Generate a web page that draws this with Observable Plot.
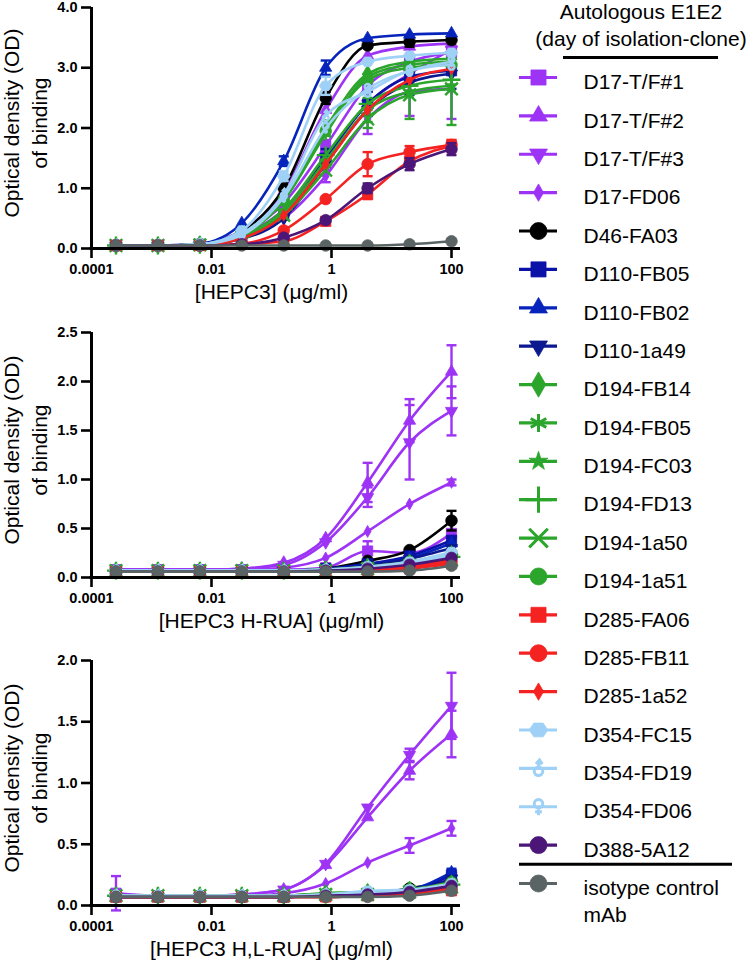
<!DOCTYPE html>
<html><head><meta charset="utf-8">
<script src="https://cdn.jsdelivr.net/npm/d3@7"></script>
<script src="https://cdn.jsdelivr.net/npm/@observablehq/plot@0.6"></script>
<style>
html,body{margin:0;padding:0;background:#fff;}
#root{position:relative;width:756px;height:961px;overflow:hidden;font-family:"Liberation Sans",Arial,Helvetica,sans-serif;color:#000;}
#root svg{position:absolute;left:0;overflow:visible;}
#root [aria-label$="tick label"]{font-weight:bold;}
.lt{position:absolute;left:520px;width:242px;text-align:center;font-size:21px;line-height:27px;top:-2px;white-space:nowrap;}
.ul{position:absolute;left:563px;width:155px;top:56px;height:0;border-top:3px solid #000;}
</style></head>
<body><div id="root">
<div class="lt">Autologous E1E2<br>(day of isolation-clone)</div>
<div class="ul"></div>
</div>
<script>
// ---------- data ----------
const concentrations = [0.000256, 0.00128, 0.0064, 0.032, 0.16, 0.8, 4, 20, 100];
const xTickLabels = ["0.0001", "0.01", "1", "100"];
const seriesNames = ["D17-T/F#1","D17-T/F#2","D17-T/F#3","D17-FD06","D46-FA03","D110-FB05","D110-FB02","D110-1a49",
  "D194-FB14","D194-FB05","D194-FC03","D194-FD13","D194-1a50","D194-1a51","D285-FA06","D285-FB11","D285-1a52",
  "D354-FC15","D354-FD19","D354-FD06","D388-5A12","isotype control\nmAb"];

// OD values, one row per series (same order as seriesNames)
const hepc3 = [
  [0.05,0.05,0.07,0.25,0.75,1.70,2.70,3.10,3.25],
  [0.05,0.05,0.08,0.30,0.95,2.30,3.20,3.35,3.40],
  [0.05,0.05,0.07,0.22,0.65,1.50,2.40,2.90,3.30],
  [0.05,0.05,0.06,0.18,0.50,1.20,2.15,2.60,2.65],
  [0.05,0.05,0.07,0.28,1.00,2.50,3.37,3.43,3.46],
  [0.05,0.05,0.06,0.18,0.55,1.50,2.40,2.85,2.95],
  [0.05,0.05,0.08,0.42,1.45,3.00,3.49,3.55,3.57],
  [0.05,0.05,0.06,0.16,0.50,1.40,2.30,2.75,2.90],
  [0.05,0.05,0.07,0.25,0.85,2.00,2.90,3.10,3.15],
  [0.05,0.05,0.07,0.22,0.80,1.90,2.85,3.05,3.10],
  [0.05,0.05,0.06,0.18,0.60,1.45,2.30,2.60,2.70],
  [0.05,0.05,0.06,0.20,0.65,1.55,2.40,2.70,2.80],
  [0.05,0.05,0.06,0.17,0.55,1.30,2.15,2.55,2.65],
  [0.05,0.05,0.07,0.23,0.80,1.95,2.80,3.00,3.05],
  [0.05,0.05,0.05,0.07,0.12,0.45,0.90,1.45,1.70],
  [0.05,0.05,0.05,0.08,0.30,0.82,1.40,1.60,1.72],
  [0.05,0.05,0.06,0.17,0.55,1.40,2.30,2.80,2.98],
  [0.05,0.05,0.07,0.30,1.20,2.70,3.10,3.20,3.25],
  [0.05,0.05,0.07,0.25,0.90,2.20,2.60,2.95,3.05],
  [0.05,0.05,0.07,0.22,0.85,2.00,2.65,2.95,3.10],
  [0.05,0.05,0.05,0.07,0.18,0.47,1.00,1.40,1.65],
  [0.05,0.05,0.05,0.05,0.05,0.05,0.05,0.07,0.12]
];
const hRUA = [
  [0.08,0.08,0.08,0.08,0.08,0.10,0.27,0.25,0.45],
  [0.08,0.08,0.08,0.09,0.15,0.40,0.97,1.60,2.10],
  [0.08,0.08,0.08,0.09,0.13,0.36,0.82,1.38,1.70],
  [0.08,0.08,0.08,0.08,0.10,0.20,0.47,0.75,0.97],
  [0.07,0.07,0.07,0.07,0.07,0.09,0.17,0.28,0.58],
  [0.07,0.07,0.07,0.07,0.07,0.09,0.14,0.22,0.38],
  [0.07,0.07,0.07,0.07,0.07,0.08,0.13,0.20,0.35],
  [0.07,0.07,0.07,0.07,0.07,0.08,0.12,0.19,0.30],
  [0.07,0.07,0.07,0.07,0.07,0.08,0.11,0.15,0.24],
  [0.07,0.07,0.07,0.07,0.07,0.08,0.10,0.14,0.22],
  [0.07,0.07,0.07,0.07,0.07,0.07,0.09,0.13,0.20],
  [0.07,0.07,0.07,0.07,0.07,0.08,0.10,0.14,0.21],
  [0.07,0.07,0.07,0.07,0.07,0.07,0.09,0.12,0.18],
  [0.07,0.07,0.07,0.07,0.07,0.08,0.11,0.16,0.25],
  [0.06,0.06,0.06,0.06,0.06,0.06,0.07,0.09,0.14],
  [0.06,0.06,0.06,0.06,0.06,0.06,0.07,0.10,0.16],
  [0.06,0.06,0.06,0.06,0.06,0.07,0.08,0.11,0.18],
  [0.07,0.07,0.07,0.07,0.07,0.08,0.11,0.16,0.26],
  [0.07,0.07,0.07,0.07,0.07,0.08,0.10,0.14,0.22],
  [0.07,0.07,0.07,0.07,0.07,0.08,0.10,0.15,0.24],
  [0.06,0.06,0.06,0.06,0.06,0.07,0.09,0.13,0.20],
  [0.06,0.06,0.06,0.06,0.06,0.06,0.06,0.07,0.12]
];
const hlRUA = [
  [0.10,0.08,0.08,0.08,0.08,0.08,0.09,0.12,0.23],
  [0.08,0.08,0.08,0.09,0.13,0.33,0.72,1.10,1.40],
  [0.08,0.08,0.08,0.09,0.13,0.34,0.80,1.23,1.63],
  [0.08,0.08,0.08,0.08,0.10,0.18,0.35,0.49,0.63],
  [0.07,0.07,0.07,0.07,0.07,0.08,0.09,0.14,0.20],
  [0.07,0.07,0.07,0.07,0.07,0.08,0.09,0.12,0.25],
  [0.07,0.07,0.07,0.07,0.07,0.08,0.10,0.13,0.27],
  [0.07,0.07,0.07,0.07,0.07,0.08,0.09,0.11,0.22],
  [0.08,0.08,0.08,0.08,0.08,0.10,0.11,0.13,0.18],
  [0.08,0.08,0.08,0.08,0.08,0.09,0.10,0.12,0.16],
  [0.08,0.08,0.08,0.08,0.08,0.09,0.10,0.12,0.15],
  [0.08,0.08,0.08,0.08,0.08,0.09,0.10,0.12,0.17],
  [0.08,0.08,0.08,0.08,0.08,0.09,0.09,0.11,0.15],
  [0.08,0.08,0.08,0.08,0.08,0.10,0.11,0.13,0.19],
  [0.07,0.07,0.07,0.07,0.07,0.07,0.08,0.10,0.12],
  [0.07,0.07,0.07,0.07,0.07,0.07,0.08,0.10,0.13],
  [0.07,0.07,0.07,0.07,0.07,0.07,0.08,0.10,0.14],
  [0.08,0.08,0.08,0.08,0.08,0.09,0.12,0.13,0.18],
  [0.08,0.08,0.08,0.08,0.08,0.09,0.10,0.12,0.17],
  [0.08,0.08,0.08,0.08,0.08,0.09,0.10,0.12,0.17],
  [0.07,0.07,0.07,0.07,0.07,0.08,0.09,0.11,0.16],
  [0.07,0.07,0.07,0.07,0.07,0.07,0.07,0.08,0.12]
];
// error bars: [series index, concentration index, SD]
const hepc3Err = [[6,4,0.08],[17,4,0.08],[0,4,0.1],[6,5,0.12],[4,5,0.1],[17,5,0.15],[8,5,0.12],[0,5,0.1],[5,5,0.15],[2,5,0.12],[3,5,0.1],
  [15,6,0.2],[5,6,0.2],[2,6,0.2],[3,6,0.25],[10,6,0.2],[12,6,0.15],[14,6,0.08],[20,6,0.08],
  [3,7,0.4],[12,7,0.4],[0,7,0.3],[5,7,0.3],[4,7,0.08],[15,7,0.1],[20,7,0.1],
  [3,8,0.5],[12,8,0.6],[5,8,0.3],[0,8,0.25],[14,8,0.1],[15,8,0.08],[20,8,0.1]];
const hRUAErr = [[0,6,0.1],[1,6,0.2],[2,6,0.1],[1,7,0.22],[2,7,0.38],[1,8,0.27],[2,8,0.25],[4,8,0.1],[3,8,0.03]];
const hlRUAErr = [[0,0,0.14],[1,7,0.07],[1,8,0.19],[2,7,0.05],[2,8,0.27],[3,7,0.06],[3,8,0.06],[6,8,0.03]];

const yTicksTop = [0, 1, 2, 3, 4];
const yTicksMid = [0, 0.5, 1, 1.5, 2, 2.5];
const yTicksBot = [0, 0.5, 1, 1.5, 2];
const yTitle = "Optical density (OD)\nof binding";
const xTitles = ["[HEPC3] (\u03bcg/ml)", "[HEPC3 H-RUA] (\u03bcg/ml)", "[HEPC3 H,L-RUA] (\u03bcg/ml)"];

// ---------- styles ----------
const P = "#9d33f5", BK = "#000000", G = "#2ba52b", R = "#f52222", LB = "#9fd1f6", DP = "#4b1677", GR = "#5a6464";
const seriesColors = [P,P,P,P,BK,"#0a12a8","#0624bb","#0b1890",G,G,G,G,G,G,R,R,R,LB,LB,LB,DP,GR];

const triDown = {draw(ctx, size){const y=-Math.sqrt(size/(Math.sqrt(3)*3));ctx.moveTo(0,-2*y);ctx.lineTo(-Math.sqrt(3)*y,y);ctx.lineTo(Math.sqrt(3)*y,y);ctx.closePath();}};
const hexagon = {draw(ctx, size){const r=Math.sqrt(2*size/(3*Math.sqrt(3)));for(let k=0;k<6;k++){const a=k*Math.PI/3,px=r*Math.cos(a),py=r*Math.sin(a)*0.85;k?ctx.lineTo(px,py):ctx.moveTo(px,py);}ctx.closePath();}};
const maleSym = {draw(ctx, size){const r=Math.sqrt(size/Math.PI),cr=r*0.5,cy=r*0.35;ctx.moveTo(cr,cy);ctx.arc(0,cy,cr,0,2*Math.PI);ctx.moveTo(0,cy-cr);ctx.lineTo(r*0.12,-r*0.95);ctx.moveTo(-r*0.3,-r*0.5);ctx.lineTo(r*0.12,-r*0.98);ctx.lineTo(r*0.45,-r*0.5);}};
const femaleSym = {draw(ctx, size){const r=Math.sqrt(size/Math.PI),cr=r*0.5,cy=-r*0.35;ctx.moveTo(cr,cy);ctx.arc(0,cy,cr,0,2*Math.PI);ctx.moveTo(0,cy+cr);ctx.lineTo(0,r);ctx.moveTo(-r*0.4,r*0.6);ctx.lineTo(r*0.4,r*0.6);}};
const capSym = {draw(ctx, size){const w=Math.sqrt(size/Math.PI);ctx.moveTo(-w,0);ctx.lineTo(w,0);}};
const seriesSymbols = ["square","triangle",triDown,"diamond","circle","square","triangle",triDown,"diamond","asterisk","star","plus","times","circle","square","circle","diamond",hexagon,maleSym,femaleSym,"circle","circle"];
const strokeOnly = new Set([9,11,12,18,19]);
const symbolScale = [1,0.78,0.78,0.62,1,1,0.78,0.78,0.9,1,0.7,1,1,1,1,1,0.62,1,1,1,1,1];

const FONT = "Liberation Sans, Arial, Helvetica, sans-serif";
const xTicks = xTickLabels.map(Number);
const root = document.getElementById("root");

function dotOpts(s, r, extra) {
  const c = seriesColors[s];
  const so = strokeOnly.has(s);
  return Object.assign({symbol: seriesSymbols[s], r: r * symbolScale[s], fill: so ? "none" : c, stroke: c, strokeWidth: so ? 2.4 : 0.8}, extra);
}

function makePanel(values, errs, yTicks, xTitle, layout) {
  const marks = [];
  values.forEach((row, s) => {
    const rows = row.map((y, i) => ({x: concentrations[i], y}));
    marks.push(Plot.line(rows, {x: "x", y: "y", stroke: seriesColors[s], strokeWidth: 2.6, curve: "monotone-x"}));
    const er = errs.filter(e => e[0] === s).map(e => ({x: concentrations[e[1]], y: row[e[1]], sd: e[2]}));
    if (er.length) {
      marks.push(Plot.ruleX(er, {x: "x", y1: d => d.y - d.sd, y2: d => d.y + d.sd, stroke: seriesColors[s], strokeWidth: 2.4}));
      const caps = er.flatMap(d => [{x: d.x, y: d.y - d.sd}, {x: d.x, y: d.y + d.sd}]);
      marks.push(Plot.dot(caps, {x: "x", y: "y", symbol: capSym, r: 5, fill: "none", stroke: seriesColors[s], strokeWidth: 2.4}));
    }
    marks.push(Plot.dot(rows, dotOpts(s, 5.8, {x: "x", y: "y"})));
  });
  const svg = Plot.plot({
    width: 470, height: layout.height,
    marginLeft: 91, marginRight: 19, marginTop: layout.marginTop, marginBottom: layout.marginBottom,
    style: {fontFamily: FONT, background: "transparent", overflow: "visible"},
    x: {type: "log", domain: [xTicks[0], xTicks[xTicks.length - 1]]},
    y: {domain: [yTicks[0], yTicks[yTicks.length - 1]]},
    marks: [
      ...marks,
      Plot.ruleX([xTicks[0]], {stroke: "#000", strokeWidth: 3, insetBottom: -1.5}),
      Plot.ruleY([yTicks[0]], {stroke: "#000", strokeWidth: 3, insetLeft: -1.5, insetRight: -9}),
      Plot.axisY(yTicks, {tickFormat: d => d.toFixed(1), tickSize: 10, tickPadding: 4, strokeWidth: 2.6, fontSize: 14.5, fontWeight: "bold", label: null}),
      Plot.axisX(xTicks, {tickFormat: d => xTickLabels[xTicks.indexOf(d)], tickSize: 10, tickPadding: 5, strokeWidth: 2.6, fontSize: 14.5, fontWeight: "bold", label: null}),
      Plot.text([yTitle], {text: d => d, frameAnchor: "left", textAnchor: "middle", lineAnchor: "middle", rotate: -90, dx: -67, dy: -5, fontSize: 21, lineHeight: 1.33}),
      Plot.text([xTitle], {text: d => d, frameAnchor: "bottom", textAnchor: "middle", lineAnchor: "middle", dy: 44, fontSize: 21})
    ]
  });
  svg.style.top = layout.top + "px";
  root.appendChild(svg);
}

makePanel(hepc3, hepc3Err, yTicksTop, xTitles[0], {top: 0, height: 320, marginTop: 7, marginBottom: 72});
makePanel(hRUA, hRUAErr, yTicksMid, xTitles[1], {top: 320, height: 320, marginTop: 12, marginBottom: 63});
makePanel(hlRUA, hlRUAErr, yTicksBot, xTitles[2], {top: 640, height: 321, marginTop: 20, marginBottom: 56});

// ---------- legend ----------
const idx = seriesNames.map((d, i) => i);
const legendMarks = [];
idx.forEach(i => {
  legendMarks.push(Plot.ruleY([i], {x1: 0, x2: 1, stroke: seriesColors[i], strokeWidth: 3.2}));
  legendMarks.push(Plot.dot([i], dotOpts(i, 8.5, {x: 0.5, y: d => d, strokeWidth: strokeOnly.has(i) ? 3 : 0.8})));
});
const legend = Plot.plot({
  width: 286, height: 961, marginLeft: 49, marginRight: 24, marginTop: 77, marginBottom: 78,
  style: {fontFamily: FONT, background: "transparent", overflow: "visible"},
  x: {domain: [0, 1], range: [49, 87], axis: null},
  y: {domain: [0, seriesNames.length - 1], range: [77, 883], axis: null},
  marks: [
    ...legendMarks,
    Plot.ruleY([seriesNames.length - 1.5], {stroke: "#000", strokeWidth: 3}),
    Plot.text(idx, {x: 1, y: d => d, text: d => seriesNames[d], dx: 26, textAnchor: "start", lineAnchor: "top", dy: -7.5, lineHeight: 1.29, fontSize: 21, fill: "#000"})
  ]
});
legend.style.left = "470px";
legend.style.top = "0px";
root.appendChild(legend);
</script>
</body></html>
